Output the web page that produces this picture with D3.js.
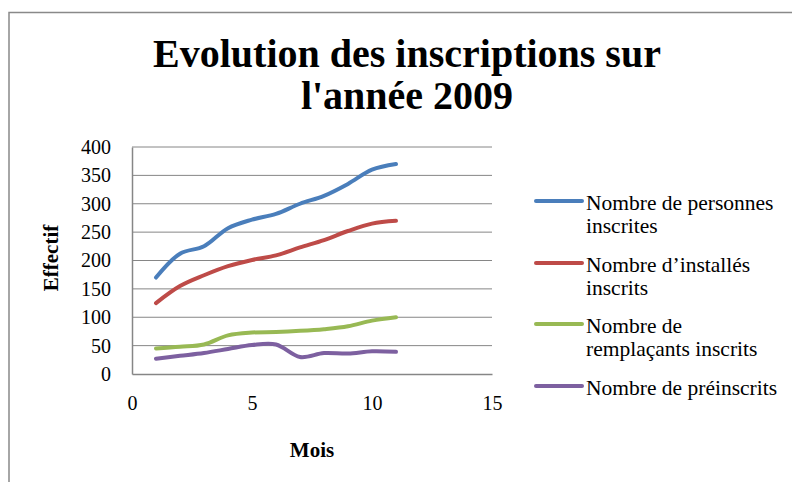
<!DOCTYPE html>
<html>
<head>
<meta charset="utf-8">
<script src="https://cdn.jsdelivr.net/npm/d3@7"></script>
<style>
  body { margin: 0; background: #fff; }
  svg text { font-family: "Liberation Serif", "Times New Roman", serif !important; }
</style>
</head>
<body>
<div id="chart"></div>
<script>
const months = [1, 2, 3, 4, 5, 6, 7, 8, 9, 10, 11];
const personnes = [170, 212, 225, 257, 272, 282, 300, 314, 335, 360, 370];
const installes = [125, 155, 174, 190, 201, 209, 223, 236, 252, 265, 270];
const remplacants = [45, 48, 52, 68, 73, 74, 76, 79, 84, 94, 100];
const preinscrits = [27, 32, 37, 44, 51, 52, 30, 37, 36, 40, 39];
const xTicks = [0, 5, 10, 15];
const yTicks = [0, 50, 100, 150, 200, 250, 300, 350, 400];

const series = [
    { name: ["Nombre de personnes", "inscrites"], values: personnes, color: "#4a7ebb" },
    { name: ["Nombre d\u2019installés", "inscrits"], values: installes, color: "#be4b48" },
    { name: ["Nombre de", "remplaçants inscrits"], values: remplacants, color: "#98b954" },
    { name: ["Nombre de préinscrits"], values: preinscrits, color: "#7d60a0" }
];

const width = 792;
const height = 482;
const plot = { left: 132, right: 492, top: 147, bottom: 374 };

const svg = d3.select("#chart")
    .append("svg")
    .attr("width", width)
    .attr("height", height);

// chart frame (cropped on right and bottom)
svg.append("path")
    .attr("d", "M9,482 V12.5 H792")
    .attr("fill", "none")
    .attr("stroke", "#898989")
    .attr("stroke-width", 1.5);

svg.append("text")
    .attr("x", 407)
    .attr("text-anchor", "middle")
    .attr("font-weight", "bold")
    .attr("font-size", 40)
    .selectAll("tspan")
    .data(["Evolution des inscriptions sur", "l'année 2009"])
    .enter()
    .append("tspan")
    .attr("x", 407)
    .attr("y", (d, i) => 67 + i * 42)
    .text(d => d);

const xScale = d3.scaleLinear()
    .domain([0, 15])
    .range([plot.left, plot.right]);

const yScale = d3.scaleLinear()
    .domain([0, 400])
    .range([plot.bottom, plot.top]);

// gridlines
svg.append("g")
    .selectAll("line")
    .data(yTicks.slice(1))
    .enter()
    .append("line")
    .attr("x1", plot.left)
    .attr("x2", plot.right)
    .attr("y1", d => yScale(d))
    .attr("y2", d => yScale(d))
    .attr("stroke", "#868686")
    .attr("stroke-width", 1);

const yAxis = svg.append("g")
    .attr("transform", "translate(" + plot.left + ",0)")
    .call(d3.axisLeft(yScale).tickValues(yTicks).tickSize(0).tickPadding(21));

const xAxis = svg.append("g")
    .attr("transform", "translate(0," + plot.bottom + ")")
    .call(d3.axisBottom(xScale).tickValues(xTicks).tickSize(0).tickPadding(22));

[xAxis, yAxis].forEach(ax => {
    ax.attr("font-family", null).attr("font-size", 20);
    ax.select(".domain").attr("stroke", "#868686").attr("stroke-width", 1.5);
    ax.selectAll("text").attr("fill", "#000");
});

svg.append("text")
    .attr("x", 312)
    .attr("y", 457)
    .attr("text-anchor", "middle")
    .attr("font-weight", "bold")
    .attr("font-size", 21)
    .text("Mois");

svg.append("text")
    .attr("transform", "translate(58,258) rotate(-90)")
    .attr("text-anchor", "middle")
    .attr("font-weight", "bold")
    .attr("font-size", 21)
    .text("Effectif");

const line = d3.line()
    .x((d, i) => xScale(months[i]))
    .y(d => yScale(d))
    .curve(d3.curveCatmullRom.alpha(0.5));

svg.append("g")
    .selectAll("path")
    .data(series)
    .enter()
    .append("path")
    .attr("d", d => line(d.values))
    .attr("fill", "none")
    .attr("stroke", d => d.color)
    .attr("stroke-width", 4)
    .attr("stroke-linecap", "round");

// legend
const legendY = [201, 263, 324, 386];
const legend = svg.append("g")
    .selectAll("g")
    .data(series)
    .enter()
    .append("g")
    .attr("transform", (d, i) => "translate(536," + legendY[i] + ")");

legend.append("line")
    .attr("x1", 0)
    .attr("x2", 46)
    .attr("stroke", d => d.color)
    .attr("stroke-width", 4)
    .attr("stroke-linecap", "round");

legend.append("text")
    .attr("font-size", 21.5)
    .selectAll("tspan")
    .data(d => d.name)
    .enter()
    .append("tspan")
    .attr("x", 50)
    .attr("y", (d, i) => 9 + i * 23)
    .text(d => d);
</script>
</body>
</html>
